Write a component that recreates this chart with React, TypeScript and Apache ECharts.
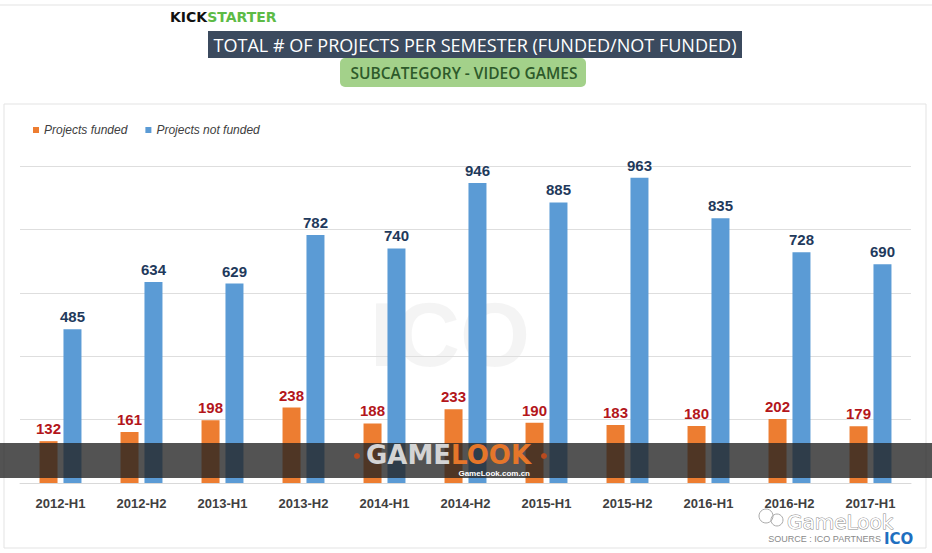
import React, { useEffect, useRef } from "react";
import * as echarts from "echarts";

const categories = ["2012-H1", "2012-H2", "2013-H1", "2013-H2", "2014-H1", "2014-H2", "2015-H1", "2015-H2", "2016-H1", "2016-H2", "2017-H1"];
const funded = [132, 161, 198, 238, 188, 233, 190, 183, 180, 202, 179];
const notFunded = [485, 634, 629, 782, 740, 946, 885, 963, 835, 728, 690];
const seriesNames = ["Projects funded", "Projects not funded"];
const titleText = "TOTAL # OF PROJECTS PER SEMESTER (FUNDED/NOT FUNDED)";
const subtitleText = "SUBCATEGORY - VIDEO GAMES";

export default function App() {
  const ref = useRef<HTMLDivElement>(null);
  useEffect(() => {
    if (!ref.current) return;
    const chart = echarts.init(ref.current, null, { renderer: "svg" });
    const font = "'Liberation Sans', Arial, sans-serif";
    chart.setOption({
      animation: false,
      backgroundColor: "#ffffff",
      textStyle: { fontFamily: font },
      legend: {
        left: 33,
        top: 124,
        padding: 0,
        icon: "rect",
        itemWidth: 6,
        itemHeight: 6,
        itemGap: 18,
        textStyle: { fontStyle: "italic", fontSize: 12, color: "#404040", fontFamily: font },
        data: seriesNames,
      },
      grid: { left: 20, right: 21, top: 166, bottom: 70 },
      xAxis: {
        type: "category",
        data: categories,
        axisLine: { show: true, lineStyle: { color: "#d9d9d9" } },
        axisTick: { show: false },
        axisLabel: { color: "#404040", fontWeight: "bold", fontSize: 13, margin: 14, fontFamily: font },
      },
      yAxis: {
        type: "value",
        min: 0,
        max: 1000,
        interval: 200,
        axisLabel: { show: false },
        axisLine: { show: false },
        axisTick: { show: false },
        splitLine: { lineStyle: { color: "#dedede" } },
      },
      series: [
        {
          name: seriesNames[0],
          type: "bar",
          data: funded,
          barWidth: 18,
          barGap: "33%",
          itemStyle: { color: "#ed7d31" },
          label: { show: true, position: "top", distance: 5, color: "#b3161b", fontWeight: "bold", fontSize: 15, fontFamily: font },
        },
        {
          name: seriesNames[1],
          type: "bar",
          data: notFunded,
          barWidth: 18,
          barGap: "33%",
          itemStyle: { color: "#5b9bd5" },
          label: { show: true, position: "top", distance: 5, color: "#1f3a5c", fontWeight: "bold", fontSize: 15, fontFamily: font },
        },
      ],
      graphic: [
        { type: "line", z: 1, shape: { x1: 0, y1: 5, x2: 932, y2: 5 }, style: { stroke: "#e3e3e3", lineWidth: 1 } },
        { type: "rect", z: 1, shape: { x: 4, y: 104, width: 922, height: 444 }, style: { fill: "none", stroke: "#e3e3e3", lineWidth: 1 } },
        // faint background ICO watermark
        { type: "text", z: 0, x: 450, y: 335, style: { text: "ICO", fill: "rgba(0,0,0,0.045)", font: "bold 90px 'Liberation Sans', Arial", textAlign: "center", textVerticalAlign: "middle" } },
        // Kickstarter logo
        {
          type: "text", z: 100, x: 170, y: 17,
          style: {
            text: "{k|KICK}{s|STARTER}",
            textVerticalAlign: "middle",
            rich: {
              k: { font: "900 14px 'DejaVu Sans', Arial", fill: "#111111" },
              s: { font: "900 14px 'DejaVu Sans', Arial", fill: "#5dbb46" },
            },
          },
        },
        // title box
        { type: "rect", z: 100, shape: { x: 208, y: 31, width: 534, height: 27 }, style: { fill: "#3b4a5e" } },
        { type: "text", z: 101, x: 475, y: 44.5, scaleX: 0.95, style: { text: titleText, fill: "#ffffff", font: "19px 'Open Sans', sans-serif", textAlign: "center", textVerticalAlign: "middle" } },
        // subtitle box
        { type: "rect", z: 100, shape: { x: 340, y: 58, width: 246, height: 29, r: 5 }, style: { fill: "#a3d18a" } },
        { type: "text", z: 101, x: 464, y: 72.5, scaleX: 0.97, style: { text: subtitleText, fill: "#2e5a2a", font: "600 16px 'Open Sans', sans-serif", textAlign: "center", textVerticalAlign: "middle" } },
        // GAMELOOK band
        { type: "rect", z: 100, shape: { x: 0, y: 443, width: 932, height: 35 }, style: { fill: "rgba(35,35,35,0.78)" } },
        { type: "circle", z: 101, shape: { cx: 357, cy: 456, r: 3 }, style: { fill: "#b94a1e" } },
        { type: "circle", z: 101, shape: { cx: 544, cy: 456, r: 3 }, style: { fill: "#b94a1e" } },
        {
          type: "text", z: 101, x: 366, y: 455,
          style: {
            text: "{g|GAME}{l|LOOK}",
            textVerticalAlign: "middle",
            rich: {
              g: { font: "bold 26px 'DejaVu Sans', Arial", fill: "#d4d4d4", lineHeight: 26 },
              l: { font: "bold 26px 'DejaVu Sans', Arial", fill: "#e5762a", lineHeight: 26 },
            },
          },
        },
        { type: "text", z: 101, x: 530, y: 473, style: { text: "GameLook.com.cn", fill: "#ffffff", font: "bold 8px 'Liberation Sans', Arial", textAlign: "right", textVerticalAlign: "middle" } },
        // bottom-right GameLook watermark
        { type: "circle", z: 101, shape: { cx: 766, cy: 516, r: 7 }, style: { fill: "none", stroke: "#aaaaaa", lineWidth: 1 } },
        { type: "circle", z: 101, shape: { cx: 777, cy: 520, r: 6 }, style: { fill: "none", stroke: "#aaaaaa", lineWidth: 1 } },
        { type: "text", z: 101, x: 787, y: 522, style: { text: "GameLook", fill: "#ffffff", stroke: "#8a8a8a", lineWidth: 1, font: "20px 'DejaVu Sans', Arial", lineHeight: 20, textVerticalAlign: "middle" } },
        { type: "text", z: 101, x: 881, y: 539, style: { text: "SOURCE : ICO PARTNERS", fill: "#8a8a8a", font: "9px 'Liberation Sans', Arial", lineHeight: 9, textAlign: "right", textVerticalAlign: "middle" } },
        { type: "text", z: 101, x: 884, y: 539, style: { text: "ICO", fill: "#1f6fc0", font: "900 15px 'DejaVu Sans', Arial", lineHeight: 14, textVerticalAlign: "middle" } },
      ],
    });
    return () => chart.dispose();
  }, []);
  return <div ref={ref} style={{ width: 932, height: 553, position: "absolute", left: 0, top: 0 }} />;
}
